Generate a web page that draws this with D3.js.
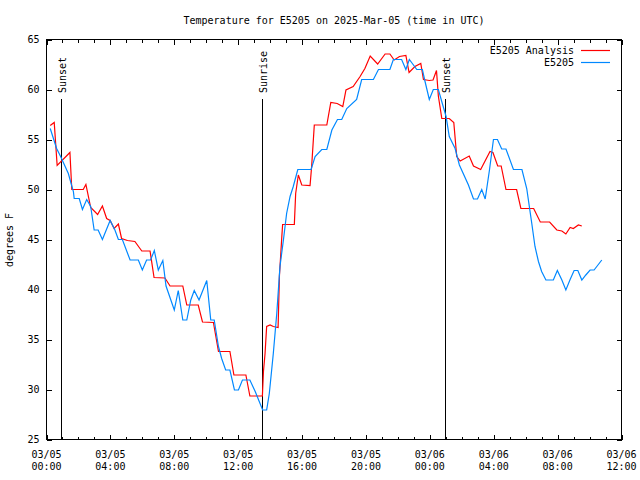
<!DOCTYPE html>
<html><head><meta charset="utf-8">
<script src="https://cdn.jsdelivr.net/npm/d3@7"></script>
<style>
body{margin:0;background:#fff;}
svg{display:block;}
text{font-family:"DejaVu Sans Mono","Liberation Mono",monospace;font-size:10px;fill:#000;}
</style></head><body>
<svg id="chart" width="640" height="480"></svg>
<script>
// ---- data (minutes since 2025-03-05 00:00 UTC) ----
const titleText = "Temperature for E5205 on 2025-Mar-05 (time in UTC)";
const yLabelText = "degrees F";
const seriesNames = ["E5205 Analysis", "E5205"];
const seriesColors = ["#ff0000", "#0088ff"];
const yTicks = [25, 30, 35, 40, 45, 50, 55, 60, 65];
const xMajorHours = [0, 4, 8, 12, 16, 20, 24, 28, 32, 36];
const events = [
  {label: "Sunset", minute: 56},
  {label: "Sunrise", minute: 811},
  {label: "Sunset", minute: 1498}
];

const analysisMinutes = [14,29,40,88,95,138,148,166,192,210,226,239,254,270,282,304,332,358,389,404,445,464,512,527,570,586,627,646,689,704,749,764,811,815,821,827,840,852,870,875,884,887,931,936,946,959,990,996,1006,1053,1068,1092,1113,1125,1152,1178,1196,1216,1244,1272,1290,1306,1326,1350,1362,1384,1406,1416,1438,1452,1465,1472,1485,1513,1530,1541,1554,1588,1604,1631,1666,1677,1695,1708,1726,1766,1782,1830,1855,1890,1917,1936,1951,1967,1979,1998,2011];
const analysisTemps = [56.4,56.7,52.4,53.7,50.0,50.0,50.5,48.2,47.5,48.35,47.1,46.9,46.1,46.55,45.1,44.9,44.8,43.85,43.85,41.2,41.15,40.35,40.35,38.45,38.45,36.75,36.7,33.8,33.8,31.45,31.45,29.35,29.35,31.8,33.6,36.3,36.45,36.3,36.2,41.35,45.3,46.5,46.5,49.6,51.45,50.45,50.4,52.3,56.45,56.45,58.7,58.6,58.3,59.95,60.3,61.3,62.1,63.35,62.55,63.55,63.55,62.95,63.3,63.4,61.7,62.3,62.6,61.0,60.9,60.95,61.9,59.35,57.1,57.1,56.7,53.3,52.85,53.35,52.35,52.0,53.8,53.7,52.35,52.35,50.0,50.0,48.1,48.1,46.75,46.75,45.95,45.85,45.55,46.2,46.1,46.45,46.35];

const stationMinutes = [14,38,53,82,101,104,123,135,151,166,179,194,210,239,257,270,285,314,345,360,376,391,405,420,437,449,480,495,512,527,542,555,573,602,617,630,646,658,673,689,706,721,736,764,784,812,827,837,852,865,877,890,902,915,927,944,994,1009,1034,1053,1072,1093,1109,1128,1165,1184,1228,1247,1290,1303,1334,1350,1363,1391,1412,1422,1438,1453,1472,1488,1501,1513,1535,1551,1585,1604,1619,1635,1648,1664,1679,1694,1710,1726,1754,1786,1804,1823,1835,1848,1860,1876,1904,1919,1936,1951,1967,1982,1996,2011,2026,2042,2057,2086];
const stationTemps = [56.1,54.1,53.3,51.6,49.8,49.1,49.1,48.0,49.0,48.3,45.95,45.95,45.0,46.9,45.95,45.0,45.0,42.95,42.95,41.95,42.95,42.95,43.9,41.95,42.9,40.35,37.95,39.9,36.95,36.95,38.95,39.9,38.95,40.9,36.95,36.95,34.3,33.1,31.95,31.95,29.95,29.95,30.95,30.95,29.8,27.95,27.95,29.6,33.6,37.6,42.3,44.95,47.6,49.3,50.3,52.0,52.0,53.3,54.0,54.0,55.95,57.0,57.0,58.1,59.0,61.0,61.0,62.0,62.0,63.0,63.0,62.0,63.0,62.0,62.0,60.8,59.0,60.0,60.0,58.5,57.3,55.3,54.1,52.45,50.45,49.05,49.05,50.0,49.05,51.95,55.0,55.0,54.05,54.05,52.0,52.0,50.1,46.6,44.3,42.8,41.8,40.95,40.95,41.9,40.95,39.95,41.0,41.9,41.9,40.95,41.45,41.95,41.95,42.95];

// ---- layout ----
const L = 46.5, R = 621.5, T = 39.5, B = 439.5;
const t0 = Date.UTC(2025, 2, 5, 0, 0);
const toDate = m => new Date(t0 + m * 60000);

const svg = d3.select("#chart");
const x = d3.scaleUtc().domain([toDate(0), toDate(36 * 60)]).range([L, R]);
const y = d3.scaleLinear().domain([25, 65]).range([B, T]);

const majorDates = xMajorHours.map(h => toDate(h * 60));
const minorDates = d3.range(0, 37).filter(h => h % 4 !== 0).map(h => toDate(h * 60));
const fmtDay = d3.utcFormat("%m/%d"), fmtTime = d3.utcFormat("%H:%M");

function strip(g){ g.select(".domain").remove(); g.selectAll("line").attr("stroke","#000").attr("shape-rendering","crispEdges"); }

// bottom major
const gb = svg.append("g").attr("transform", `translate(0,${B})`)
  .call(d3.axisBottom(x).tickValues(majorDates).tickSize(-5).tickFormat(""));
strip(gb);
svg.append("g").attr("transform", `translate(0,${B})`)
  .call(d3.axisBottom(x).tickValues(minorDates).tickSize(-3).tickFormat("")).call(strip);
// top
svg.append("g").attr("transform", `translate(0,${T})`)
  .call(d3.axisTop(x).tickValues(majorDates).tickSize(-5).tickFormat("")).call(strip);
svg.append("g").attr("transform", `translate(0,${T})`)
  .call(d3.axisTop(x).tickValues(minorDates).tickSize(-3).tickFormat("")).call(strip);
// left / right
const gl = svg.append("g").attr("transform", `translate(${L},0)`)
  .call(d3.axisLeft(y).tickValues(yTicks).tickSize(-5).tickPadding(7).tickFormat(d3.format("d")));
strip(gl);
gl.selectAll("text").attr("font-size", 10).attr("font-family", "DejaVu Sans Mono").attr("fill","#000");
svg.append("g").attr("transform", `translate(${R},0)`)
  .call(d3.axisRight(y).tickValues(yTicks).tickSize(-5).tickFormat("")).call(strip);

// x tick labels (two lines)
const xl = svg.append("g");
majorDates.forEach(d => {
  const t = xl.append("text").attr("text-anchor", "middle");
  t.append("tspan").attr("x", x(d)).attr("y", 457.5).text(fmtDay(d));
  t.append("tspan").attr("x", x(d)).attr("y", 469.5).text(fmtTime(d));
});

// border
svg.append("rect").attr("x", L).attr("y", T).attr("width", R - L).attr("height", B - T)
  .attr("fill", "none").attr("stroke", "#000").attr("shape-rendering", "crispEdges");

// events
events.forEach(e => {
  const ex = Math.round(x(toDate(e.minute))) + 0.5;
  svg.append("line").attr("x1", ex).attr("x2", ex).attr("y1", 99).attr("y2", B)
    .attr("stroke", "#000").attr("shape-rendering", "crispEdges");
  svg.append("text").attr("transform", `translate(${ex + 4},93) rotate(-90)`)
    .attr("text-anchor", "start").text(e.label);
});

// series
const line = d3.line().x(d => x(toDate(d[0]))).y(d => y(d[1]));
const analysisData = analysisMinutes.map((m, i) => [m, analysisTemps[i]]);
const stationData = stationMinutes.map((m, i) => [m, stationTemps[i]]);
svg.append("path").datum(analysisData).attr("d", line).attr("fill", "none")
  .attr("stroke", seriesColors[0]).attr("stroke-width", 1.2);
svg.append("path").datum(stationData).attr("d", line).attr("fill", "none")
  .attr("stroke", seriesColors[1]).attr("stroke-width", 1.2);

// legend
const legY = [50, 62];
seriesNames.forEach((n, i) => {
  svg.append("text").attr("x", 574).attr("y", legY[i] + 4).attr("text-anchor", "end").text(n);
  svg.append("line").attr("x1", 581).attr("x2", 610).attr("y1", legY[i] + 0.5).attr("y2", legY[i] + 0.5)
    .attr("stroke", seriesColors[i]).attr("stroke-width", 1.2);
});

// title & y label
svg.append("text").attr("x", 334).attr("y", 24).attr("text-anchor", "middle").text(titleText);
svg.append("text").attr("transform", "translate(13,240) rotate(-90)").attr("text-anchor", "middle").text(yLabelText);
</script>
</body></html>
